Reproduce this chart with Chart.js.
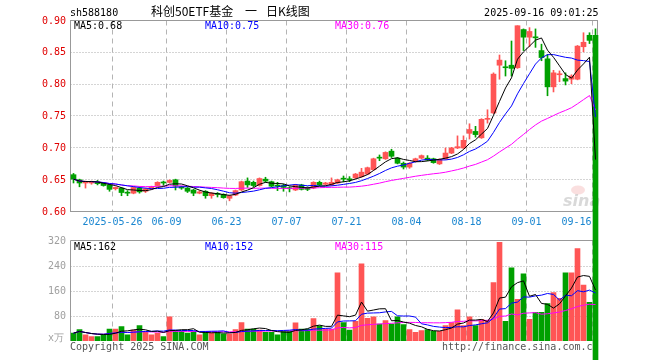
<!DOCTYPE html>
<html>
<head>
<meta charset="utf-8">
<script src="https://cdn.jsdelivr.net/npm/chart.js@4.4.1/dist/chart.umd.min.js"></script>
<style>
  html, body { margin: 0; padding: 0; background: #fff; }
  #myChart { display: block; }
</style>
</head>
<body>
<canvas id="myChart" width="660" height="360"></canvas>
<script>
// datos (588180, velas diarias)
const dias = [
  '05-15','05-16','05-19','05-20','05-21','05-22','05-23','05-26','05-27','05-28','05-29','05-30',
  '06-03','06-04','06-05','06-06','06-09','06-10','06-11','06-12','06-13','06-16','06-17','06-18','06-19','06-20',
  '06-23','06-24','06-25','06-26','06-27','06-30',
  '07-01','07-02','07-03','07-04','07-07','07-08','07-09','07-10','07-11','07-14','07-15','07-16','07-17','07-18',
  '07-21','07-22','07-23','07-24','07-25','07-28','07-29','07-30','07-31',
  '08-01','08-04','08-05','08-06','08-07','08-08','08-11','08-12','08-13','08-14','08-15','08-18','08-19','08-20',
  '08-21','08-22','08-25','08-26','08-27','08-28','08-29',
  '09-01','09-02','09-03','09-04','09-05','09-08','09-09','09-10','09-11','09-12','09-15','09-16'
];
const apertura = [
  .657,.649,.644,.644,.646,.644,.641,.635,.636,.629,.628,.636,.631,.636,.640,.645,.645,.649,.638,.636,
  .633,.628,.631,.624,.627,.626,.620,.625,.633,.647,.645,.640,.650,.646,.640,.640,.636,.633,.641,.637,
  .636,.645,.642,.641,.644,.651,.650,.652,.654,.658,.665,.684,.682,.694,.683,.675,.669,.678,.683,.683,
  .682,.674,.682,.691,.699,.699,.722,.725,.715,.744,.754,.829,.826,.829,.825,.885,.873,.873,.852,.839,
  .795,.814,.808,.807,.807,.858,.876,.876
];
const maximo = [
  .659,.650,.647,.647,.648,.645,.642,.638,.637,.632,.638,.638,.636,.639,.646,.647,.649,.650,.639,.637,
  .634,.632,.632,.629,.629,.627,.625,.633,.647,.652,.647,.652,.653,.647,.645,.642,.638,.642,.642,.638,
  .646,.647,.645,.652,.650,.655,.654,.659,.667,.669,.683,.688,.693,.697,.684,.677,.676,.683,.688,.687,
  .683,.682,.699,.700,.718,.718,.737,.733,.745,.759,.817,.845,.836,.867,.891,.886,.888,.886,.862,.846,
  .821,.820,.817,.814,.860,.880,.880,.886
];
const minimo = [
  .644,.638,.636,.642,.641,.639,.631,.633,.624,.624,.627,.628,.629,.634,.639,.640,.644,.633,.634,.629,
  .624,.627,.620,.620,.622,.620,.616,.624,.632,.637,.638,.639,.645,.638,.632,.631,.630,.632,.633,.632,
  .635,.640,.641,.640,.643,.646,.646,.651,.653,.657,.664,.679,.681,.684,.674,.666,.667,.677,.682,.679,
  .675,.673,.681,.690,.698,.698,.713,.716,.714,.738,.753,.807,.812,.812,.824,.852,.858,.857,.836,.781,
  .787,.803,.798,.800,.806,.850,.863,0
];
const cierre = [
  .650,.644,.645,.646,.643,.640,.634,.637,.629,.628,.637,.630,.635,.638,.645,.644,.648,.639,.636,.631,
  .628,.630,.624,.628,.626,.621,.624,.632,.646,.641,.640,.651,.647,.639,.639,.637,.635,.641,.634,.634,
  .645,.641,.644,.645,.649,.650,.649,.658,.661,.668,.682,.683,.692,.686,.675,.669,.675,.682,.687,.680,
  .676,.681,.691,.699,.701,.711,.728,.720,.744,.745,.815,.837,.825,.824,.891,.873,.882,.872,.841,.795,
  .817,.815,.804,.812,.859,.865,.868,0
];
// volumen en 万手
const volumen = [
  25,36,20,14,14,20,38,38,46,20,35,49,28,20,25,14,77,33,31,25,
  30,20,30,26,28,23,23,36,59,38,38,35,28,28,20,31,31,58,38,38,
  71,48,38,38,217,59,35,63,246,72,77,54,65,54,77,52,36,28,33,36,
  31,31,49,59,99,49,77,49,69,66,186,314,63,233,133,214,69,91,91,119,
  154,136,217,217,294,178,123,0
];
const ticksFecha = ['05-26','06-09','06-23','07-07','07-21','08-04','08-18','09-01','09-16'];
const textoFecha = ['2025-05-26','06-09','06-23','07-07','07-21','08-04','08-18','09-01','09-16'];
const ticksPrecio = [0.60, 0.65, 0.70, 0.75, 0.80, 0.85, 0.90];
const ticksVolumen = [80, 160, 240, 320];

const ROJO = '#ff5555';
const VERDE = '#00a000';
const MONO = '10px "DejaVu Sans Mono"';

function mediaMovil(serie, n) {
  return serie.map((v, i) => {
    const tramo = serie.slice(Math.max(0, i - n + 1), i + 1);
    return tramo.reduce((a, b) => a + b, 0) / tramo.length;
  });
}

function colorVela(i) {
  return cierre[i] >= apertura[i] ? ROJO : VERDE;
}

// marco, rejilla y textos
const marco = {
  id: 'marco',
  beforeDatasetsDraw(chart) {
    const { ctx, chartArea, scales } = chart;
    const x = scales.x, y = scales.y, yv = scales.yv;
    const izq = chartArea.left;
    const der = chartArea.right - 1;
    const arriba = Math.round(y.getPixelForValue(0.90)) + 0.5;
    const abajo = Math.round(y.getPixelForValue(0.60)) + 0.5;
    const vArriba = Math.round(yv.getPixelForValue(320)) + 0.5;
    const vAbajo = Math.round(yv.getPixelForValue(0));

    ctx.save();
    ctx.lineWidth = 1;

    // lineas horizontales punteadas
    ctx.strokeStyle = '#aaaaaa';
    ctx.setLineDash([1, 2]);
    ticksPrecio.slice(1, -1).forEach(v => {
      const py = Math.round(y.getPixelForValue(v)) + 0.5;
      ctx.beginPath(); ctx.moveTo(izq, py); ctx.lineTo(der, py); ctx.stroke();
    });
    ticksVolumen.slice(0, -1).forEach(v => {
      const py = Math.round(yv.getPixelForValue(v)) + 0.5;
      ctx.beginPath(); ctx.moveTo(izq, py); ctx.lineTo(der, py); ctx.stroke();
    });

    // lineas verticales de fechas
    ctx.strokeStyle = '#b4b4b4';
    ctx.setLineDash([5, 4]);
    ticksFecha.forEach(f => {
      const i = dias.indexOf(f);
      const px = x.getPixelForValue(i) - 3;
      ctx.beginPath(); ctx.moveTo(px, arriba); ctx.lineTo(px, abajo); ctx.stroke();
      ctx.beginPath(); ctx.moveTo(px, vArriba); ctx.lineTo(px, vAbajo); ctx.stroke();
    });

    // cajas
    ctx.setLineDash([]);
    ctx.strokeStyle = '#999999';
    ctx.strokeRect(izq, arriba, der - izq, abajo - arriba);
    ctx.beginPath();
    ctx.moveTo(izq, vAbajo); ctx.lineTo(izq, vArriba); ctx.lineTo(der, vArriba); ctx.lineTo(der, vAbajo);
    ctx.stroke();

    // marca de agua
    ctx.fillStyle = 'rgba(230,80,80,0.18)';
    ctx.beginPath(); ctx.ellipse(578, 190, 7, 4.5, 0, 0, Math.PI * 2); ctx.fill();
    ctx.font = 'italic bold 16px "DejaVu Sans"';
    ctx.fillStyle = 'rgba(160,160,160,0.4)';
    ctx.textAlign = 'left';
    ctx.textBaseline = 'alphabetic';
    ctx.fillText('sina', 563, 206);

    // etiquetas de precio
    ctx.font = MONO;
    ctx.textAlign = 'right';
    ctx.textBaseline = 'middle';
    ctx.fillStyle = '#e00000';
    ticksPrecio.forEach(v => ctx.fillText(v.toFixed(2), 66, y.getPixelForValue(v) + 1));
    ctx.fillStyle = '#a0a0a0';
    ticksVolumen.forEach(v => ctx.fillText(String(v), 66, yv.getPixelForValue(v) + 1));
    ctx.fillText('x万', 64, vAbajo - 3);

    // etiquetas de fecha
    ctx.fillStyle = '#1a86d0';
    ctx.textBaseline = 'alphabetic';
    ticksFecha.forEach((f, k) => {
      const px = x.getPixelForValue(dias.indexOf(f)) - 3;
      const ancho = ctx.measureText(textoFecha[k]).width;
      ctx.textAlign = 'center';
      let cx = px;
      if (cx + ancho / 2 > der - 6) cx = der - 6 - ancho / 2;
      ctx.fillText(textoFecha[k], cx, 225);
    });

    // cabecera
    ctx.textAlign = 'left';
    ctx.fillStyle = '#000';
    ctx.fillText('sh588180', 70, 16);
    ctx.textAlign = 'right';
    ctx.fillText('2025-09-16 09:01:25', der + 1, 16);
    ctx.textAlign = 'left';
    ctx.font = '12px "Noto Sans CJK SC"';
    ctx.fillText('科创50ETF基金', 151, 16);
    ctx.fillText('一', 245, 16);
    ctx.fillText('日K线图', 266, 16);

    ctx.font = MONO;
    ctx.fillStyle = '#000'; ctx.fillText('MA5:0.68', 74, 29);
    ctx.fillStyle = '#0000ff'; ctx.fillText('MA10:0.75', 205, 29);
    ctx.fillStyle = '#ff00ff'; ctx.fillText('MA30:0.76', 335, 29);
    ctx.fillStyle = '#000'; ctx.fillText('MA5:162', 74, 250);
    ctx.fillStyle = '#0000ff'; ctx.fillText('MA10:152', 205, 250);
    ctx.fillStyle = '#ff00ff'; ctx.fillText('MA30:115', 335, 250);

    ctx.fillStyle = '#555';
    ctx.fillText('Copyright 2025 SINA.COM', 70, 350);
    ctx.fillText('http://finance.sina.com.cn', 442, 350);
    ctx.restore();
  }
};

function renderGrafica() {
  const ma5 = mediaMovil(cierre, 5);
  const ma10 = mediaMovil(cierre, 10);
  const ma30 = mediaMovil(cierre, 30);
  const vma5 = mediaMovil(volumen, 5);
  const vma10 = mediaMovil(volumen, 10);
  const vma30 = mediaMovil(volumen, 30);

  const linea = (data, color, eje) => ({
    type: 'line', data, yAxisID: eje, borderColor: color, borderWidth: 1,
    pointRadius: 0, tension: 0, order: 0
  });

  const datasets = [
    linea(ma5, '#000000', 'y'),
    linea(ma10, '#0000ff', 'y'),
    linea(ma30, '#ff00ff', 'y'),
    linea(vma5, '#000000', 'yv'),
    linea(vma10, '#0000ff', 'yv'),
    linea(vma30, '#ff00ff', 'yv'),
    {
      type: 'bar', data: dias.map((d, i) => [apertura[i], cierre[i]]), yAxisID: 'y',
      backgroundColor: c => colorVela(c.dataIndex), barThickness: 5, grouped: false,
      minBarLength: 1, clip: false, order: 1
    },
    {
      type: 'bar', data: dias.map((d, i) => [minimo[i], maximo[i]]), yAxisID: 'y',
      backgroundColor: c => colorVela(c.dataIndex), barThickness: 1, grouped: false,
      clip: false, order: 2
    },
    {
      type: 'bar', data: volumen, yAxisID: 'yv',
      backgroundColor: c => colorVela(c.dataIndex), barThickness: 5, grouped: false, order: 3
    }
  ];

  const config = {
    type: 'bar',
    data: { labels: dias, datasets },
    options: {
      responsive: false,
      animation: false,
      events: [],
      layout: { padding: { left: 70.5, right: 61.5, top: 20, bottom: 19 } },
      plugins: { legend: { display: false }, tooltip: { enabled: false } },
      scales: {
        x: { type: 'category', display: false, offset: true },
        y: { display: false, min: 0.39581, max: 0.90 },
        yv: { display: false, min: 0, max: 1022 }
      }
    },
    plugins: [marco]
  };
  new Chart(document.getElementById('myChart'), config);
}

renderGrafica();
</script>
</body>
</html>
